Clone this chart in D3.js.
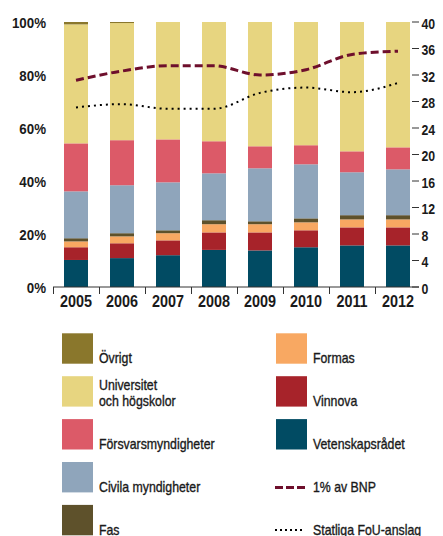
<!DOCTYPE html>
<html>
<head>
<meta charset="utf-8">
<script src="https://cdn.jsdelivr.net/npm/d3@7/dist/d3.min.js"></script>
<style>
  html, body { margin: 0; padding: 0; background: #fff; }
  svg text { font-family: "Liberation Sans", Arial, sans-serif; fill: #1a1a1a; }
  svg .legend text { stroke: #1a1a1a; stroke-width: 0.35; }
</style>
</head>
<body>
<svg id="chart" width="443" height="536"></svg>
<script>
const years = ["2005","2006","2007","2008","2009","2010","2011","2012"];
const vetenskapsradet = [10.2, 10.9, 12.0, 14.0, 13.8, 15.0, 15.7, 15.7];
const vinnova        = [4.8, 5.6, 5.6, 6.6, 6.8, 6.4, 6.8, 6.8];
const formas         = [2.2, 2.6, 2.7, 3.1, 3.1, 3.0, 3.0, 3.0];
const fas            = [1.2, 1.2, 1.1, 1.5, 1.1, 1.5, 1.6, 1.6];
const civila         = [17.7, 18.1, 18.1, 17.7, 20.0, 20.4, 16.2, 17.3];
const forsvar        = [18.1, 17.0, 16.2, 12.1, 8.3, 7.2, 7.9, 8.3];
const universitet    = [44.9, 44.2, 44.3, 45.0, 46.9, 46.5, 48.8, 47.3];
const ovrigt         = [0.9, 0.4, 0.0, 0.0, 0.0, 0.0, 0.0, 0.0];
const bnp1           = [31.2, 32.6, 33.4, 33.4, 32.0, 32.8, 35.1, 35.6];
const statligaFoU    = [27.1, 27.6, 26.9, 26.9, 29.3, 30.1, 29.4, 30.8];
const leftTicks  = [0, 20, 40, 60, 80, 100];
const rightTicks = [0, 4, 8, 12, 16, 20, 24, 28, 32, 36, 40];

const seriesDefs = [
  {key: "Vetenskapsrådet", values: vetenskapsradet, color: "#014b63"},
  {key: "Vinnova", values: vinnova, color: "#a7232a"},
  {key: "Formas", values: formas, color: "#f8a862"},
  {key: "Fas", values: fas, color: "#5e512b"},
  {key: "Civila myndigheter", values: civila, color: "#8fa5bb"},
  {key: "Försvarsmyndigheter", values: forsvar, color: "#dc5a68"},
  {key: "Universitet och högskolor", values: universitet, color: "#e7d580"},
  {key: "Övrigt", values: ovrigt, color: "#8a772c"}
];

const table = years.map((y, i) => {
  const row = {year: y};
  seriesDefs.forEach(s => row[s.key] = s.values[i]);
  return row;
});

const svg = d3.select("#chart");
const x = d3.scaleBand().domain(years).range([53, 421]).paddingInner(0).paddingOuter(0);
const barW = 24;
const yL = d3.scaleLinear().domain([0, 100]).range([287, 22]);
const yR = d3.scaleLinear().domain([0, 40]).range([287, 22]);

function ctext(g, tx, ty, str, size, opts = {}) {
  return g.append("text")
    .attr("transform", `translate(${tx},${ty}) scale(${opts.sx || 0.88},1)`)
    .attr("text-anchor", opts.anchor || "start")
    .attr("font-size", size)
    .attr("font-weight", opts.weight || "normal")
    .text(str);
}

const stacked = d3.stack().keys(seriesDefs.map(s => s.key))(table);

svg.append("g").selectAll("g").data(stacked).join("g")
  .attr("fill", (d, i) => seriesDefs[i].color)
  .selectAll("rect").data(d => d).join("rect")
  .attr("x", d => x(d.data.year) + x.bandwidth() / 2 - barW / 2)
  .attr("width", barW)
  .attr("y", d => yL(d[1]))
  .attr("height", d => Math.max(0, yL(d[0]) - yL(d[1])));

svg.append("line").attr("x1", 53).attr("x2", 419).attr("y1", yL(0)).attr("y2", yL(0))
  .attr("stroke", "#333").attr("stroke-width", 1);
svg.append("g").selectAll("line").data(years).join("line")
  .attr("x1", d => x(d) + 0.5).attr("x2", d => x(d) + 0.5)
  .attr("y1", yL(0)).attr("y2", yL(0) + 7)
  .attr("stroke", "#333").attr("stroke-width", 1);

const labels = svg.append("g");
years.forEach(y => ctext(labels, x(y) + x.bandwidth() / 2, 306.7, y, 16, {anchor: "middle", weight: "bold", sx: 0.9}));
leftTicks.forEach(t => ctext(labels, 46, yL(t) + 5.5, t + "%", 15.5, {anchor: "end", weight: "bold", sx: 0.86}));

svg.append("g").selectAll("line").data(rightTicks).join("line")
  .attr("x1", 412).attr("x2", 419)
  .attr("y1", d => yR(d)).attr("y2", d => yR(d))
  .attr("stroke", "#333").attr("stroke-width", 1);
rightTicks.forEach(t => ctext(labels, 421.5, yR(t) + 6.5, String(t), 15, {weight: "bold", sx: 0.82}));

const lineGen = d3.line()
  .x((d, i) => x(years[i]) + x.bandwidth() / 2)
  .y(d => yR(d))
  .curve(d3.curveMonotoneX);

svg.append("path").attr("d", lineGen(bnp1))
  .attr("fill", "none").attr("stroke", "#6e0f2c").attr("stroke-width", 3)
  .attr("stroke-dasharray", "8,4");
svg.append("path").attr("d", lineGen(statligaFoU))
  .attr("fill", "none").attr("stroke", "#000").attr("stroke-width", 2)
  .attr("stroke-dasharray", "2,4");

const legendLeft = [
  {label: ["Övrigt"], color: "#8a772c"},
  {label: ["Universitet", "och högskolor"], color: "#e7d580"},
  {label: ["Försvarsmyndigheter"], color: "#dc5a68"},
  {label: ["Civila myndigheter"], color: "#8fa5bb"},
  {label: ["Fas"], color: "#5e512b"}
];
const legendRight = [
  {label: ["Formas"], color: "#f8a862"},
  {label: ["Vinnova"], color: "#a7232a"},
  {label: ["Vetenskapsrådet"], color: "#014b63"},
  {label: ["1% av BNP"], line: "dash"},
  {label: ["Statliga FoU-anslag"], line: "dot"}
];
const rowY = i => 333.3 + i * 42.9;
const lg = svg.append("g").attr("class", "legend");
function drawLegend(items, sx, tx) {
  items.forEach((it, i) => {
    const y0 = rowY(i);
    if (it.color) {
      lg.append("rect").attr("x", sx).attr("y", y0).attr("width", 31).attr("height", 30.4).attr("fill", it.color);
    } else if (it.line === "dash") {
      lg.append("line").attr("x1", sx - 1).attr("x2", sx + 29).attr("y1", y0 + 25.5).attr("y2", y0 + 25.5)
        .attr("stroke", "#6e0f2c").attr("stroke-width", 3).attr("stroke-dasharray", "8,3");
    } else {
      lg.append("line").attr("x1", sx - 1).attr("x2", sx + 29).attr("y1", y0 + 25).attr("y2", y0 + 25)
        .attr("stroke", "#000").attr("stroke-width", 2).attr("stroke-dasharray", "2,3");
    }
    const n = it.label.length;
    it.label.forEach((t, j) => ctext(lg, tx, y0 + 30 - (n - 1 - j) * 15.8, t, 14, {sx: 0.88}));
  });
}
drawLegend(legendLeft, 62, 99);
drawLegend(legendRight, 276, 313);
</script>
</body>
</html>
